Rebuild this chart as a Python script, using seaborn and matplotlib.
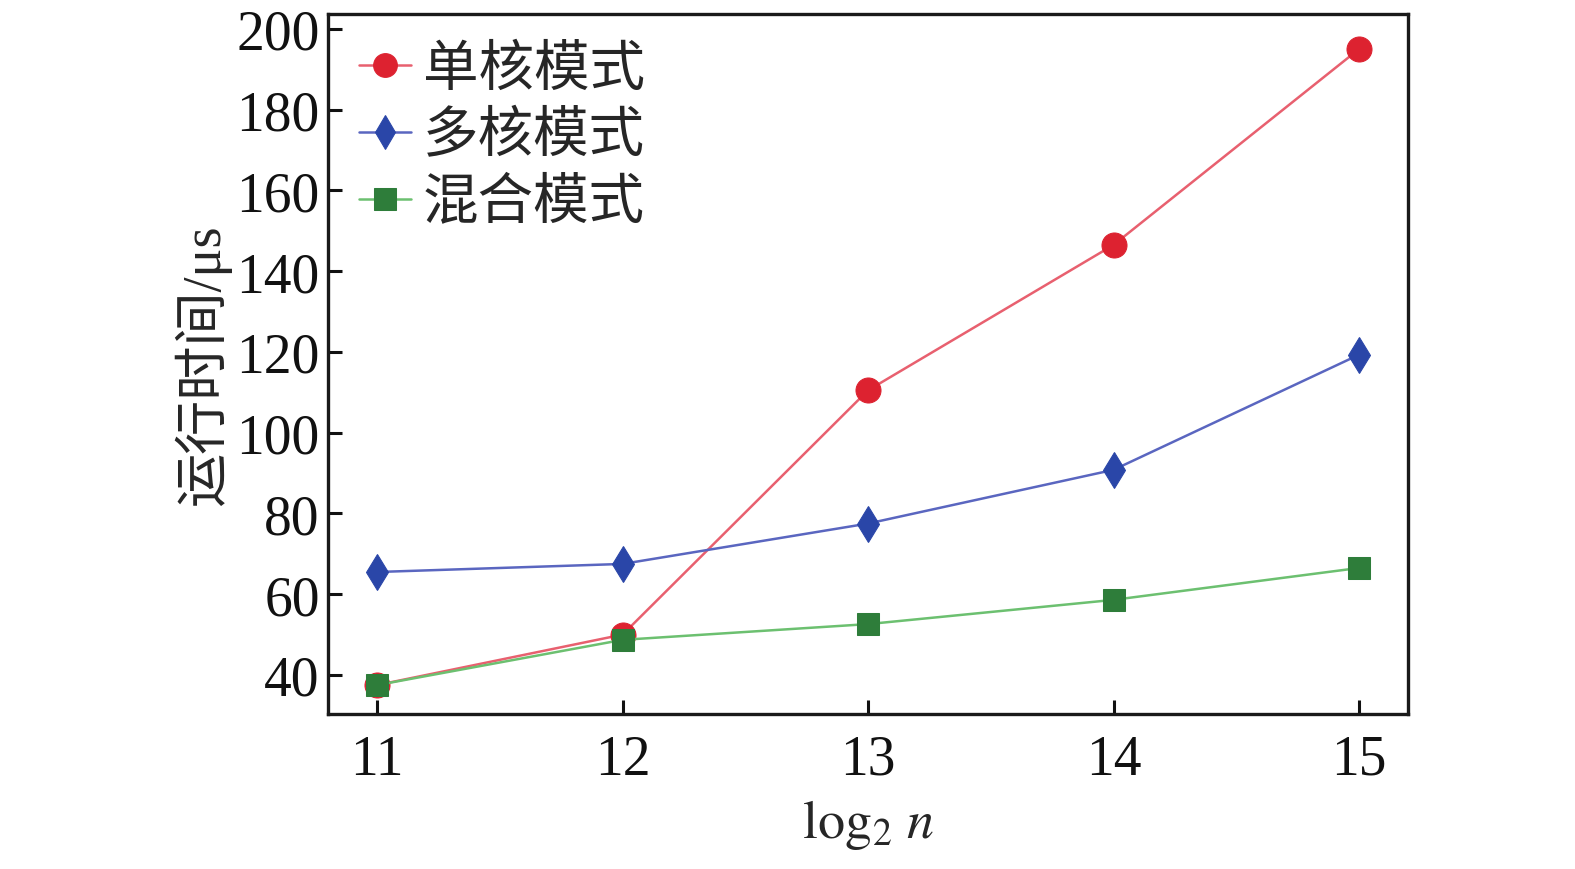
import matplotlib
matplotlib.use("Agg")
import matplotlib.pyplot as plt
import seaborn as sns
import pandas as pd

# 数据
log2_n = [11, 12, 13, 14, 15]
single_core = [37.5, 50, 110.5, 146.5, 195]
multi_core = [65.5, 67.5, 77.5, 90.8, 119.3]
hybrid = [37.5, 48.7, 52.6, 58.6, 66.5]

labels = ["单核模式", "多核模式", "混合模式"]
y_ticks = [40, 60, 80, 100, 120, 140, 160, 180, 200]

sns.set_theme(style="ticks")
plt.rcParams['font.family'] = ['Liberation Serif', 'Noto Sans CJK SC', 'DejaVu Sans']
plt.rcParams['mathtext.fontset'] = 'stix'

df = pd.DataFrame({"x": log2_n, "单核模式": single_core,
                   "多核模式": multi_core, "混合模式": hybrid})

fig = plt.figure(figsize=(15.75, 8.7), dpi=100)
ax = fig.add_axes([0.2083, 0.178, 0.8940 - 0.2083, 0.9828 - 0.178])

styles = [
    ("单核模式", "o", "#e8606f", "#dd2230", 18),
    ("多核模式", "d", "#5a66c0", "#2a46a8", 18),
    ("混合模式", "s", "#6cc070", "#2e7d3a", 16),
]
for name, mk, lc, mc, ms in styles:
    sns.lineplot(data=df, x="x", y=name, ax=ax, label=name, color=lc,
                 linewidth=1.8, marker=mk, markersize=ms,
                 markerfacecolor=mc, markeredgecolor=mc)

ax.set_xlim(10.8, 15.2)
ax.set_ylim(30.3, 203.7)
ax.set_xticks(log2_n)
ax.set_yticks(y_ticks)
ax.tick_params(direction="in", length=10, width=2.2, labelsize=40,
               colors="#111111", top=False, right=False)
ax.tick_params(axis="x", pad=14)
ax.tick_params(axis="y", pad=6)
for s in ax.spines.values():
    s.set_linewidth(2.4)
    s.set_color("#1a1a1a")

ax.set_xlabel(r"$\mathrm{log}_2\ n$", fontsize=39, labelpad=8)
ax.set_ylabel("运行时间/μs", fontsize=39, labelpad=4)

leg = ax.legend(loc="upper left", frameon=False, fontsize=40,
                handlelength=0.95, handletextpad=0.2, labelspacing=0.27,
                borderaxespad=0.15, markerscale=0.95)

fig.savefig("out.png", dpi=100)
